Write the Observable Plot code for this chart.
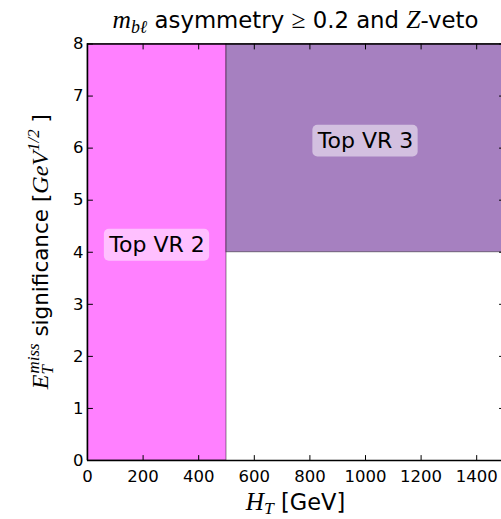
<!DOCTYPE html>
<html>
<head>
<meta charset="utf-8">
<script src="https://cdn.jsdelivr.net/npm/d3@7"></script>
<script src="https://cdn.jsdelivr.net/npm/@observablehq/plot@0.6"></script>
<style>
  html, body { margin: 0; padding: 0; background: #fff; }
  #chart svg { display: block; }
</style>
</head>
<body>
<div id="chart"></div>
<script>
// Validation regions in the (H_T, E_T^miss significance) plane
const regionNames = ["Top VR 2", "Top VR 3"];
const regionHtLow = [0, 500];
const regionHtHigh = [500, 1500];
const regionSigLow = [0, 4];
const regionSigHigh = [8, 8];
const regionColors = ["#ff80ff", "#a680c0"];
const labelHt = [250, 1000];
const labelSig = [4, 6];

// Axis extents and ticks
const htDomain = [0, 1500];
const sigDomain = [0, 8];
const xTicks = [0, 200, 400, 600, 800, 1000, 1200, 1400];
const yTicks = [0, 1, 2, 3, 4, 5, 6, 7, 8];

const regions = regionNames.map((name, i) => ({
  name,
  x1: regionHtLow[i], x2: regionHtHigh[i],
  y1: regionSigLow[i], y2: regionSigHigh[i],
  color: regionColors[i],
  lx: labelHt[i], ly: labelSig[i]
}));

const SANS = "DejaVu Sans, sans-serif";
const SERIF = "Liberation Serif, DejaVu Serif, serif";

// Straight tick line for vector marks
const tickLine = {draw(context, l) { context.moveTo(0, 0); context.lineTo(0, -l); }};

// Text with italic math pieces, sub- and superscripts
function richText(parts, size) {
  const text = d3.create("svg:text")
    .attr("fill", "#000")
    .attr("text-anchor", "middle")
    .attr("font-family", SANS)
    .attr("font-size", size);
  let level = 0;
  for (const p of parts) {
    const fs = size * (p.scale ?? 1) * (p.it || p.serif ? 1.12 : 1);
    const shift = (p.shift ?? 0) * size;
    const span = text.append("tspan")
      .text(p.t)
      .attr("font-size", fs)
      .attr("font-family", p.it || p.serif ? SERIF : SANS)
      .attr("font-style", p.it ? "italic" : "normal")
      .attr("dy", shift - level);
    if (p.dx) span.attr("dx", p.dx * size);
    level = shift;
  }
  return text;
}

const titleParts = [
  {t: "m", it: true},
  {t: "bℓ", it: true, scale: 0.7, shift: 0.22},
  {t: " asymmetry "},
  {t: "≥", serif: true},
  {t: " 0.2 and "},
  {t: "Z", it: true},
  {t: "-veto"}
];
const xLabelParts = [
  {t: "H", it: true},
  {t: "T", it: true, scale: 0.7, shift: 0.16},
  {t: " [GeV]"}
];
const yLabelParts = [
  {t: "E", it: true},
  {t: "T", it: true, scale: 0.7, shift: 0.22},
  {t: "miss", it: true, scale: 0.7, shift: -0.42, dx: -0.38},
  {t: " significance ["},
  {t: "GeV", it: true},
  {t: "1/2", it: true, scale: 0.7, shift: -0.42},
  {t: " ]"}
];

const chart = Plot.plot({
  width: 501,
  height: 519,
  marginLeft: 87,
  marginRight: 0,
  marginTop: 43.5,
  marginBottom: 59,
  x: {domain: htDomain, range: [87, 504], axis: null},
  y: {domain: sigDomain, range: [460, 43.5], axis: null},
  color: {type: "identity"},
  style: {fontFamily: SANS, background: "#fff", overflow: "hidden"},
  marks: [
    // filled regions
    Plot.rect(regions, {
      x1: "x1", x2: "x2", y1: "y1", y2: "y2",
      fill: "color", stroke: "#000", strokeOpacity: 0.45, strokeWidth: 1
    }),
    // region names
    Plot.text(regions, {
      x: "lx", y: "ly", text: "name",
      fontSize: 22, lineAnchor: "bottom", textAnchor: "middle",
      fill: "#000", className: "region-label"
    }),
    // axes box
    Plot.ruleX([htDomain[0], htDomain[1]], {y1: () => sigDomain[0], y2: () => sigDomain[1], stroke: "#000", strokeWidth: 1.5}),
    Plot.ruleY([sigDomain[0], sigDomain[1]], {x1: () => htDomain[0], x2: () => htDomain[1], stroke: "#000", strokeWidth: 1.5}),
    // inward ticks on all four sides
    Plot.vector(xTicks, {x: d => d, y: () => sigDomain[0], length: 5, rotate: 0, anchor: "start", shape: tickLine, stroke: "#000", strokeWidth: 1}),
    Plot.vector(xTicks, {x: d => d, y: () => sigDomain[1], length: 5, rotate: 180, anchor: "start", shape: tickLine, stroke: "#000", strokeWidth: 1}),
    Plot.vector(yTicks, {x: () => htDomain[0], y: d => d, length: 5, rotate: 90, anchor: "start", shape: tickLine, stroke: "#000", strokeWidth: 1}),
    Plot.vector(yTicks, {x: () => htDomain[1], y: d => d, length: 5, rotate: -90, anchor: "start", shape: tickLine, stroke: "#000", strokeWidth: 1}),
    // tick labels
    Plot.text(xTicks, {x: d => d, y: () => sigDomain[0], text: d => String(d), lineAnchor: "top", dy: 10, fontSize: 16.5, fill: "#000"}),
    Plot.text(yTicks, {x: () => htDomain[0], y: d => d, text: d => String(d), textAnchor: "end", dx: -4, fontSize: 16.5, fill: "#000"}),
    // title and axis labels
    (index, {x, y}) => {
      const cx = (x(htDomain[0]) + x(htDomain[1])) / 2;
      return richText(titleParts, 22.8).attr("x", cx).attr("y", 28).node();
    },
    (index, {x, y}) => {
      const cx = (x(htDomain[0]) + x(htDomain[1])) / 2;
      return richText(xLabelParts, 22.5).attr("x", cx).attr("y", 510).node();
    },
    (index, {x, y}) => {
      const cy = (y(sigDomain[0]) + y(sigDomain[1])) / 2;
      return richText(yLabelParts, 21.5).attr("transform", `translate(48,${cy}) rotate(-90)`).node();
    }
  ]
});

document.getElementById("chart").append(chart);

// rounded translucent boxes behind the region names
d3.select(chart).selectAll("g.region-label text").each(function () {
  const b = this.getBBox();
  const pad = 4.4;
  d3.select(this.parentNode).insert("rect", () => this)
    .attr("transform", this.getAttribute("transform"))
    .attr("x", b.x - pad).attr("y", b.y - pad + 1)
    .attr("width", b.width + 2 * pad).attr("height", b.height + 2 * pad - 2)
    .attr("rx", 5).attr("ry", 5)
    .attr("fill", "#fff").attr("fill-opacity", 0.5);
});
</script>
</body>
</html>
